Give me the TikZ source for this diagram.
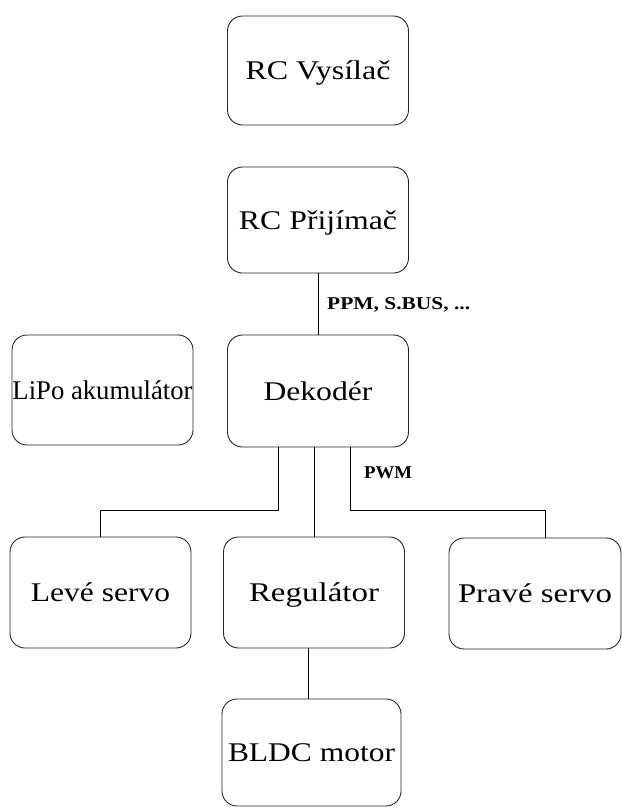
\documentclass[tikz,border=0pt]{standalone}
\usepackage{fontspec}
\usepackage{graphicx}
\setmainfont{Liberation Serif}
\usetikzlibrary{positioning}

% stretch a label horizontally to a given width, keeping its height
\newcommand{\fitw}[2]{\resizebox{#1}{\height}{#2}}

\tikzset{
  block/.style={draw=black!85, line width=0.9pt, rounded corners=15pt,
    minimum width=181pt, inner sep=0pt, font=\fontsize{27}{29}\selectfont,
    text depth=0pt, text height=18pt},
  wire/.style={draw=black, line width=0.9pt},
  sig/.style={inner sep=0pt, font=\fontsize{18}{20}\selectfont\bfseries}
}

\begin{document}
\begin{tikzpicture}[x=1pt,y=-1pt]
  \useasboundingbox (0,0) rectangle (622,807);

  % blocks
  \node[block, minimum height=109pt] (vys)  at (318,70.5)  {\fitw{145pt}{RC Vysílač}};
  \node[block, minimum height=106pt] (pri)  at (318,220)   {\fitw{158pt}{RC Přijímač}};
  \node[block, minimum height=112pt] (dek)  at (318,391)   {\fitw{109pt}{Dekodér}};
  \node[block, minimum height=110pt] (lipo) at (102.5,390) {\fitw{180pt}{LiPo akumulátor}};
  \node[block, minimum height=111pt] (lev)  at (100.5,592.5) {\fitw{139pt}{Levé servo}};
  \node[block, minimum height=111pt] (reg)  at (314,592.5) {\fitw{130pt}{Regulátor}};
  \node[block, minimum height=111pt, minimum width=172pt] (prav) at (535,593.5) {\fitw{154pt}{Pravé servo}};
  \node[block, minimum height=107pt, minimum width=179pt] (bldc) at (311.5,752.5) {\fitw{167pt}{BLDC motor}};

  % signal labels
  \node[sig, anchor=base west] (ppm) at (327,309) {\fitw{143pt}{PPM, S.BUS, ...}};
  \node[sig, anchor=base west] (pwm) at (364,478) {\fitw{48pt}{PWM}};

  % connections
  \draw[wire] (pri.south) -- (dek.north);
  \draw[wire] ([xshift=-40pt]dek.south) |- ([yshift=26pt]lev.north) -- (lev.north);
  \draw[wire] (reg.north |- dek.south) -- (reg.north);
  \draw[wire] ([xshift=32pt]dek.south) |- ([xshift=10pt,yshift=27pt]prav.north) -- ([xshift=10pt]prav.north);
  \draw[wire] ([xshift=-6pt]reg.south) -- ([xshift=-6pt]reg.south |- bldc.north);
\end{tikzpicture}
\end{document}
